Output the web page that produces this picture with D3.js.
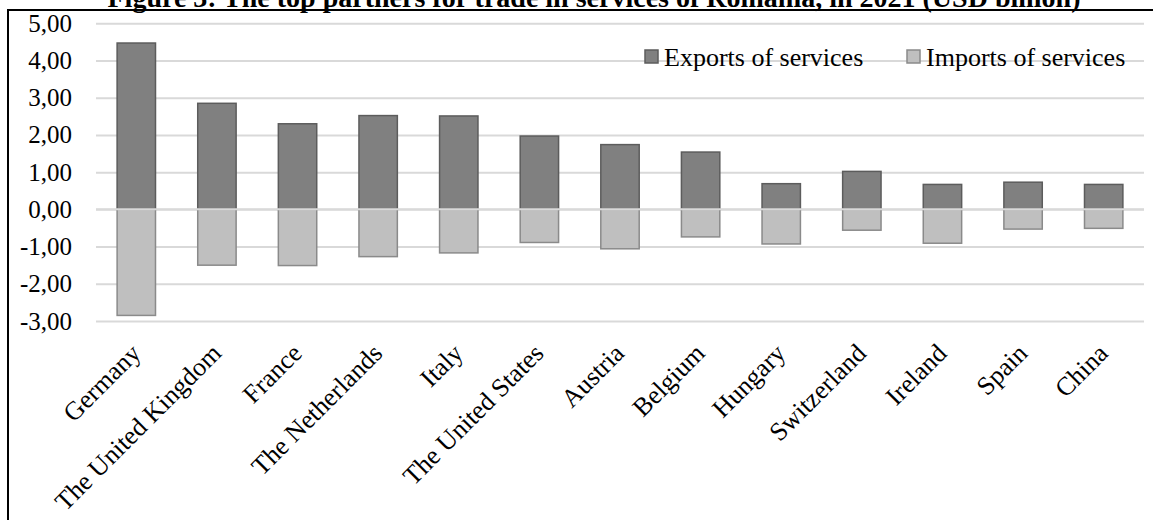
<!DOCTYPE html>
<html>
<head>
<meta charset="utf-8">
<script src="https://cdn.jsdelivr.net/npm/d3@7"></script>
<style>
  html, body { margin: 0; padding: 0; background: #fff; }
  svg { display: block; font-family: "Liberation Serif", "Times New Roman", serif; }
</style>
</head>
<body>
<svg id="chart" width="1153" height="520"></svg>
<script>
// Romania's top partners for trade in services, 2021 (USD billion)
const partners = ["Germany", "The United Kingdom", "France", "The Netherlands", "Italy",
  "The United States", "Austria", "Belgium", "Hungary", "Switzerland", "Ireland", "Spain", "China"];
const exportsOfServices = [4.47, 2.85, 2.30, 2.52, 2.51, 1.97, 1.74, 1.54, 0.69, 1.02, 0.67, 0.73, 0.67];
const importsOfServices = [-2.85, -1.50, -1.51, -1.27, -1.17, -0.89, -1.06, -0.74, -0.93, -0.56, -0.91, -0.53, -0.51];
const yTicks = [-3, -2, -1, 0, 1, 2, 3, 4, 5];
const seriesNames = ["Exports of services", "Imports of services"];
const titleText = "Figure 3: The top partners for trade in services of Romania, in 2021 (USD billion)";

const svg = d3.select("#chart");
const W = 1153;

const plot = { left: 96, right: 1144, top: 23.3, bottom: 321 };

const x = d3.scaleBand()
  .domain(partners)
  .range([plot.left, plot.right])
  .paddingInner(110 / 210)
  .paddingOuter(55 / 210);

const y = d3.scaleLinear().domain([-3, 5]).range([plot.bottom, plot.top]);

const locale = d3.formatLocale({ decimal: ",", thousands: ".", grouping: [3], currency: ["", ""], minus: "-" });
const fmt = locale.format(".2f");

// Title (sits above the frame)
svg.append("text")
  .attr("x", 594)
  .attr("y", 7)
  .attr("text-anchor", "middle")
  .attr("font-weight", "bold")
  .attr("font-size", 28)
  .attr("fill", "#000")
  .text(titleText);

// Frame
svg.append("line").attr("x1", 8).attr("x2", W).attr("y1", 10).attr("y2", 10)
  .attr("stroke", "#000").attr("stroke-width", 2);
svg.append("line").attr("x1", 8).attr("x2", 8).attr("y1", 9).attr("y2", 520)
  .attr("stroke", "#000").attr("stroke-width", 2);

// Gridlines
svg.append("g")
  .attr("transform", `translate(${plot.left},0)`)
  .call(d3.axisLeft(y).tickValues(yTicks).tickSize(-(plot.right - plot.left)).tickFormat(""))
  .call(g => g.select(".domain").remove())
  .call(g => g.selectAll("line").attr("stroke", "#d9d9d9").attr("stroke-width", 2));

// Y tick labels
svg.append("g")
  .attr("transform", "translate(72,0)")
  .call(d3.axisLeft(y).tickValues(yTicks).tickSize(0).tickPadding(0).tickFormat(fmt))
  .call(g => g.select(".domain").remove())
  .call(g => g.selectAll("text")
    .attr("font-family", "Liberation Serif, Times New Roman, serif")
    .attr("font-size", 25).attr("fill", "#000"));

// Bars
const bw = x.bandwidth();
svg.append("g").selectAll("rect")
  .data(partners.map((p, i) => ({ p, v: exportsOfServices[i] })))
  .join("rect")
  .attr("x", d => x(d.p))
  .attr("width", bw)
  .attr("y", d => y(d.v))
  .attr("height", d => y(0) - y(d.v))
  .attr("fill", "#808080")
  .attr("stroke", "#5c5c5c")
  .attr("stroke-width", 1.5);

svg.append("g").selectAll("rect")
  .data(partners.map((p, i) => ({ p, v: importsOfServices[i] })))
  .join("rect")
  .attr("x", d => x(d.p))
  .attr("width", bw)
  .attr("y", y(0))
  .attr("height", d => y(d.v) - y(0))
  .attr("fill", "#bfbfbf")
  .attr("stroke", "#8a8a8a")
  .attr("stroke-width", 1.5);

// Zero line
svg.append("line")
  .attr("x1", plot.left).attr("x2", plot.right)
  .attr("y1", y(0)).attr("y2", y(0))
  .attr("stroke", "#d9d9d9").attr("stroke-width", 2);

// Category labels, rotated
svg.append("g").selectAll("text")
  .data(partners)
  .join("text")
  .attr("transform", d => `translate(${x(d) + bw / 2 - 8},${341}) rotate(-45)`)
  .attr("text-anchor", "end")
  .attr("dy", "0.75em")
  .attr("font-size", 26)
  .attr("fill", "#000")
  .text(d => d);

// Legend
const legendItems = [
  { name: seriesNames[0], fill: "#808080", stroke: "#5c5c5c", x: 645 },
  { name: seriesNames[1], fill: "#bfbfbf", stroke: "#8a8a8a", x: 907 }
];
const lg = svg.append("g").selectAll("g").data(legendItems).join("g")
  .attr("transform", d => `translate(${d.x},50)`);
lg.append("rect").attr("width", 13).attr("height", 13)
  .attr("fill", d => d.fill).attr("stroke", d => d.stroke).attr("stroke-width", 1.5);
lg.append("text").attr("x", 19).attr("y", 7).attr("dy", "0.35em")
  .attr("font-size", 26).attr("fill", "#000").text(d => d.name);
</script>
</body>
</html>
